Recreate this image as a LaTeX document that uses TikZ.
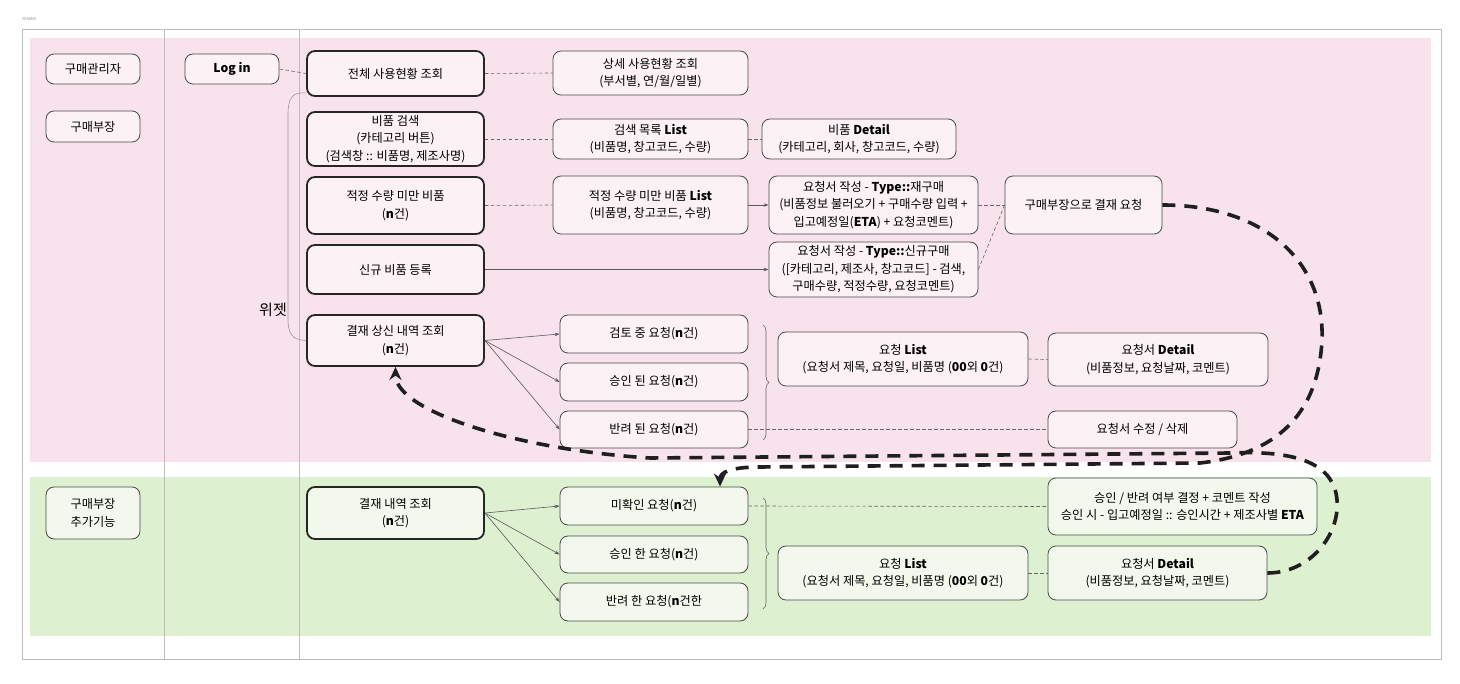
\documentclass[tikz,border=0pt]{standalone}
\usepackage{fontspec}
\setmainfont{Noto Sans CJK KR}
\usetikzlibrary{arrows.meta,decorations.pathreplacing,calc}

\definecolor{pinkband}{HTML}{F8E2EB}
\definecolor{pinknode}{HTML}{FCF2F6}
\definecolor{greenband}{HTML}{DDF0CF}
\definecolor{greennode}{HTML}{F2F9EC}
\definecolor{framegray}{HTML}{BDBDBD}
\definecolor{edgegray}{HTML}{4A4A4A}

\begin{document}
\begin{tikzpicture}[x=1pt,y=-1pt,
 box/.style={draw=edgegray, line width=0.8pt, rounded corners=8pt, align=center, inner sep=0pt,
   font=\fontsize{12.2}{17.5}\selectfont},
 pbox/.style={box, fill=pinknode},
 gbox/.style={box, fill=greennode},
 sz/.style 2 args={minimum width=#1pt, minimum height=#2pt},
 strong/.style={line width=1.8pt, draw=black!85},
 link/.style={draw=black!60, line width=0.6pt, dash pattern=on 3.5pt off 2.5pt},
 flow/.style={draw=black!65, line width=0.6pt, -{Stealth[length=5pt,width=3.5pt]}},
 bigdash/.style={draw=black!88, line width=3.6pt, dash pattern=on 13pt off 9pt},
 bigtip/.style={-{Stealth[length=13pt,width=12pt]}},
 brc/.style={draw=black!60, line width=0.6pt, decorate, decoration={brace, amplitude=6pt}},
 widget/.style={draw=black!40, line width=0.6pt}
]
% background and bounds
\fill[white] (0,0) rectangle (1460,684);
\useasboundingbox (0,0) rectangle (1460,684);
\node[anchor=west, text=black!45, font=\fontsize{4}{5}\selectfont, inner sep=0pt] (brand) at (22,19) {YESIAM};

% bands
\fill[pinkband] (30,38) rectangle (1431,462);
\fill[greenband] (30,477) rectangle (1431,636);
% frame and columns
\draw[framegray, line width=0.8pt] (22,29) rectangle (1441,659);
\draw[framegray, line width=0.8pt] (164,29) -- (164,659);
\draw[framegray, line width=0.8pt] (299,29) -- (299,659);

% ---- pink section nodes
\node[pbox, sz={94}{30}] (adm) at (93,69) {구매관리자};
\node[pbox, sz={94}{31}] (bj) at (93,126.5) {구매부장};
\node[pbox, sz={94}{30}] (login) at (232,69) {\textbf{Log in}};
\node[pbox, strong, sz={177}{45}] (all) at (395.5,73.5) {전체 사용현황 조회};
\node[pbox, sz={195}{44}] (detailuse) at (650.5,73) {상세 사용현황 조회\\(부서별, 연/월/일별)};
\node[pbox, strong, sz={177}{54}] (search) at (395.5,139) {비품 검색\\(카테고리 버튼)\\(검색창 :: 비품명, 제조사명)};
\node[pbox, sz={195}{40}] (slist) at (650.5,139) {검색 목록 \textbf{List}\\(비품명, 창고코드, 수량)};
\node[pbox, sz={194}{40}] (sdetail) at (859,139) {비품 \textbf{Detail}\\(카테고리, 회사, 창고코드, 수량)};
\node[pbox, strong, sz={177}{57}] (under) at (395.5,205.5) {적정 수량 미만 비품\\(\textbf{n}건)};
\node[pbox, sz={195}{58}] (ulist) at (650.5,205) {적정 수량 미만 비품 \textbf{List}\\(비품명, 창고코드, 수량)};
\node[pbox, sz={209}{58}] (reqA) at (873.5,205) {요청서 작성 - \textbf{Type::}재구매\\(비품정보 불러오기 + 구매수량 입력 +\\입고예정일(\textbf{ETA}) + 요청코멘트)};
\node[pbox, sz={157}{58}] (gb) at (1083.5,205) {구매부장으로 결재 요청};
\node[pbox, strong, sz={177}{49}] (newreg) at (395.5,269.5) {신규 비품 등록};
\node[pbox, sz={209}{55}] (reqB) at (873.5,269.5) {요청서 작성 - \textbf{Type::}신규구매\\([카테고리, 제조사, 창고코드] - 검색,\\구매수량, 적정수량, 요청코멘트)};
\node[font=\fontsize{15}{17}\selectfont, inner sep=0pt] (wlabel) at (273,310) {위젯};
\node[pbox, strong, sz={177}{51}] (gs) at (395.5,340.5) {결재 상신 내역 조회\\(\textbf{n}건)};
\node[pbox, sz={188}{38}] (r1) at (654,334) {검토 중 요청(\textbf{n}건)};
\node[pbox, sz={188}{38}] (r2) at (654,382) {승인 된 요청(\textbf{n}건)};
\node[pbox, sz={188}{37}] (r3) at (654,429.5) {반려 된 요청(\textbf{n}건)};
\node[pbox, sz={250}{54}] (plist) at (903,359) {요청 \textbf{List}\\(요청서 제목, 요청일, 비품명 (\textbf{00}외 \textbf{0}건)};
\node[pbox, sz={220}{53}] (pdetail) at (1158,359.5) {요청서 \textbf{Detail}\\(비품정보, 요청날짜, 코멘트)};
\node[pbox, sz={189}{37}] (edit) at (1142.5,429.5) {요청서 수정 / 삭제};

% ---- green section nodes
\node[gbox, sz={94}{52}] (gadd) at (93,513) {구매부장\\추가기능};
\node[gbox, strong, sz={177}{52}] (gj) at (395.5,513) {결재 내역 조회\\(\textbf{n}건)};
\node[gbox, sz={188}{38}] (g1) at (654,506) {미확인 요청(\textbf{n}건)};
\node[gbox, sz={188}{37}] (g2) at (654,554.5) {승인 한 요청(\textbf{n}건)};
\node[gbox, sz={188}{38}] (g3) at (654,602) {반려 한 요청(\textbf{n}건한};
\node[gbox, sz={269}{57}] (decide) at (1182.5,506.5) {승인 / 반려 여부 결정 + 코멘트 작성\\승인 시 - 입고예정일 :: 승인시간 + 제조사별 \textbf{ETA}};
\node[gbox, sz={250}{54}] (glist) at (903,573) {요청 \textbf{List}\\(요청서 제목, 요청일, 비품명 (\textbf{00}외 \textbf{0}건)};
\node[gbox, sz={219}{54}] (gdetail) at (1157.5,573) {요청서 \textbf{Detail}\\(비품정보, 요청날짜, 코멘트)};

% ---- thin dashed links
\draw[link] (login.east) -- (all.west);
\draw[link] (all.east) -- (detailuse.west);
\draw[link] (search.east) -- (slist.west);
\draw[link] (slist.east) -- (sdetail.west);
\draw[link] (under.east) -- (ulist.west);
\draw[link] (reqA.east) -- (gb.west);
\draw[link] (reqB.east) -- (gb.west);
\draw[link] (r3.east) -- (edit.west);
\draw[link] (plist.east) -- (pdetail.west);
\draw[link] (g1.east) -- (decide.west);
\draw[link] (glist.east) -- (gdetail.west);

% ---- solid arrows
\draw[flow] (ulist.east) -- (reqA.west);
\draw[flow] (newreg.east) -- (reqB.west);
\draw[flow] (gs.east) -- (r1.west);
\draw[flow] (gs.east) -- (r2.west);
\draw[flow] (gs.east) -- (r3.west);
\draw[flow] (gj.east) -- (g1.west);
\draw[flow] (gj.east) -- (g2.west);
\draw[flow] (gj.east) -- (g3.west);

% ---- widget bracket line
\draw[widget] ($(all.south west)+(0,-4)$) .. controls (292,92) and (288,98) .. (288,115)
  -- (288,318) .. controls (288,334) and (292,340) .. (gs.west);

% ---- braces
\draw[brc] (763,325) -- (763,440);
\draw[brc] (763,498) -- (763,609);

% ---- big dashed flows
\draw[bigdash, bigtip] (gb.east) .. controls +(100,0) and (1325,260) .. (1322,340)
  .. controls (1318,420) and (1270,455) .. (1200,463) -- (760,467)
  .. controls (730,467) and ($(g1.north)+(66,-14)$) .. ($(g1.north)+(66,0)$);
\draw[bigdash, bigtip] (gdetail.east) .. controls (1310,573) and (1340,535) .. (1337,500)
  .. controls (1334,465) and (1300,450) .. (1230,453) -- (650,458)
  .. controls (520,450) and ($(gs.south)+(0,45)$) .. (gs.south);
\end{tikzpicture}
\end{document}
